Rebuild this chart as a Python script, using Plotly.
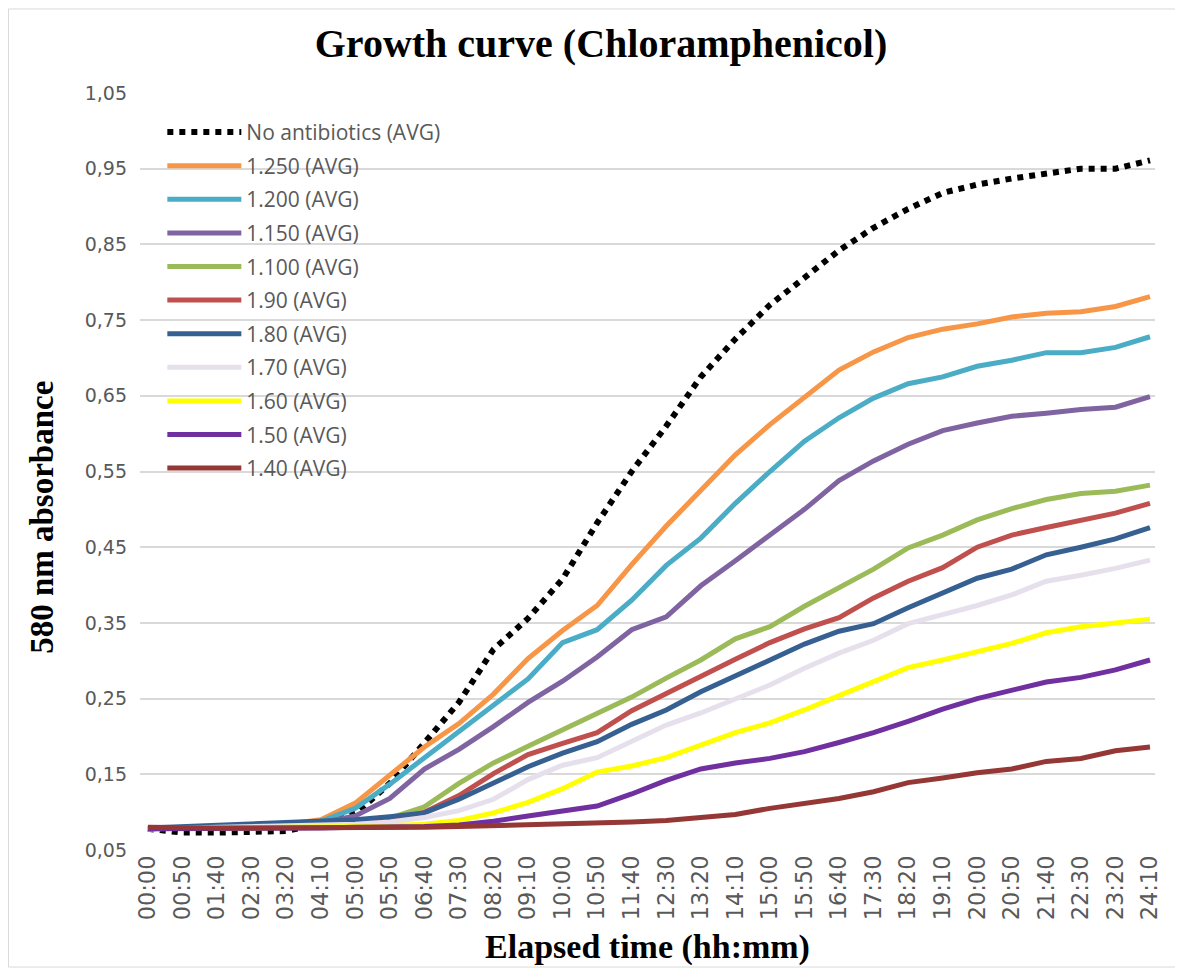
import plotly.graph_objects as go

time_labels = ["00:00", "00:50", "01:40", "02:30", "03:20", "04:10", "05:00", "05:50",
               "06:40", "07:30", "08:20", "09:10", "10:00", "10:50", "11:40", "12:30",
               "13:20", "14:10", "15:00", "15:50", "16:40", "17:30", "18:20", "19:10",
               "20:00", "20:50", "21:40", "22:30", "23:20", "24:10"]

no_antibiotics = [0.078, 0.073, 0.073, 0.074, 0.075, 0.085, 0.098, 0.138, 0.191, 0.245,
                  0.315, 0.356, 0.408, 0.482, 0.550, 0.610, 0.675, 0.725, 0.770, 0.807,
                  0.842, 0.872, 0.897, 0.918, 0.929, 0.937, 0.944, 0.950, 0.950, 0.961]
c1_250 = [0.078, 0.079, 0.081, 0.082, 0.084, 0.090, 0.112, 0.150, 0.186, 0.217,
          0.256, 0.303, 0.340, 0.373, 0.427, 0.478, 0.526, 0.572, 0.612, 0.648,
          0.684, 0.708, 0.727, 0.738, 0.745, 0.754, 0.759, 0.761, 0.768, 0.781]
c1_200 = [0.078, 0.079, 0.080, 0.081, 0.083, 0.088, 0.105, 0.137, 0.172, 0.207,
          0.240, 0.276, 0.324, 0.341, 0.380, 0.426, 0.462, 0.508, 0.550, 0.590,
          0.621, 0.647, 0.666, 0.675, 0.689, 0.697, 0.707, 0.707, 0.714, 0.728]
c1_150 = [0.078, 0.079, 0.080, 0.080, 0.082, 0.086, 0.095, 0.118, 0.157, 0.183,
          0.213, 0.245, 0.273, 0.305, 0.341, 0.358, 0.399, 0.432, 0.465, 0.500,
          0.538, 0.564, 0.586, 0.604, 0.614, 0.623, 0.627, 0.632, 0.635, 0.649]
c1_100 = [0.078, 0.079, 0.079, 0.080, 0.081, 0.084, 0.086, 0.092, 0.107, 0.138,
          0.165, 0.187, 0.209, 0.231, 0.252, 0.277, 0.301, 0.329, 0.345, 0.372,
          0.397, 0.421, 0.449, 0.466, 0.486, 0.501, 0.513, 0.521, 0.524, 0.532]
c1_90 = [0.078, 0.079, 0.079, 0.080, 0.081, 0.083, 0.085, 0.088, 0.100, 0.122,
         0.151, 0.176, 0.191, 0.205, 0.234, 0.257, 0.280, 0.302, 0.324, 0.342,
         0.357, 0.383, 0.405, 0.423, 0.450, 0.466, 0.476, 0.486, 0.495, 0.508]
c1_80 = [0.079, 0.081, 0.083, 0.084, 0.086, 0.088, 0.090, 0.094, 0.099, 0.117,
         0.138, 0.160, 0.178, 0.193, 0.216, 0.235, 0.259, 0.280, 0.300, 0.322,
         0.339, 0.349, 0.370, 0.389, 0.409, 0.421, 0.440, 0.450, 0.461, 0.476]
c1_70 = [0.078, 0.079, 0.079, 0.080, 0.081, 0.082, 0.084, 0.087, 0.093, 0.102,
         0.117, 0.143, 0.162, 0.172, 0.194, 0.215, 0.231, 0.249, 0.268, 0.290,
         0.310, 0.327, 0.349, 0.361, 0.373, 0.387, 0.405, 0.413, 0.422, 0.433]
c1_60 = [0.078, 0.078, 0.079, 0.079, 0.080, 0.080, 0.081, 0.082, 0.084, 0.089,
         0.099, 0.113, 0.131, 0.153, 0.161, 0.172, 0.189, 0.205, 0.218, 0.235,
         0.254, 0.272, 0.291, 0.301, 0.312, 0.323, 0.337, 0.345, 0.350, 0.355]
c1_50 = [0.078, 0.078, 0.078, 0.078, 0.079, 0.079, 0.080, 0.080, 0.081, 0.083,
         0.088, 0.095, 0.102, 0.108, 0.124, 0.142, 0.157, 0.165, 0.171, 0.180,
         0.192, 0.205, 0.220, 0.236, 0.250, 0.261, 0.272, 0.278, 0.288, 0.301]
c1_40 = [0.080, 0.079, 0.079, 0.079, 0.079, 0.079, 0.079, 0.080, 0.080, 0.081,
         0.082, 0.083, 0.084, 0.085, 0.087, 0.089, 0.093, 0.097, 0.105, 0.111,
         0.118, 0.127, 0.139, 0.145, 0.152, 0.157, 0.167, 0.171, 0.181, 0.186]

series_names = ["No antibiotics (AVG)", "1.250 (AVG)", "1.200 (AVG)", "1.150 (AVG)",
                "1.100 (AVG)", "1.90 (AVG)", "1.80 (AVG)", "1.70 (AVG)", "1.60 (AVG)",
                "1.50 (AVG)", "1.40 (AVG)"]
series_values = [no_antibiotics, c1_250, c1_200, c1_150, c1_100, c1_90, c1_80,
                 c1_70, c1_60, c1_50, c1_40]
series_colors = ["#000000", "#F79646", "#4BACC6", "#8064A2", "#9BBB59", "#C0504D",
                 "#376092", "#E6E0EC", "#FFFF00", "#7030A0", "#953735"]

y_ticks = [0.05, 0.15, 0.25, 0.35, 0.45, 0.55, 0.65, 0.75, 0.85, 0.95, 1.05]

fig = go.Figure()
for i, (name, vals, col) in enumerate(zip(series_names, series_values, series_colors)):
    if i == 0:
        line = dict(color=col, width=6, dash="6px,6px")
    else:
        line = dict(color=col, width=5)
    fig.add_trace(go.Scatter(x=time_labels, y=vals, mode="lines", name=name,
                             line=line, legendgroup=name))

tick_col = "#595959"
fig.update_layout(
    width=1175, height=961,
    paper_bgcolor="white", plot_bgcolor="white",
    separators=",.",
    margin=dict(l=132, r=28, t=85, b=119),
    title=dict(text="<b>Growth curve (Chloramphenicol)</b>",
               font=dict(family="Liberation Serif", size=40, color="#000000"),
               x=0.5047, xanchor="center", y=0.964, yanchor="middle"),
    xaxis=dict(type="category", range=[-0.23, 29.145], showgrid=False,
               tickangle=-90,
               tickfont=dict(family="DejaVu Sans", size=22.5, color=tick_col),
               ticks="", showline=False, zeroline=False,
               title=dict(text="<b>Elapsed time (hh:mm)</b>",
                          font=dict(family="Liberation Serif", size=34, color="#000000"),
                          standoff=14)),
    yaxis=dict(range=[0.05, 1.05], tickvals=y_ticks, tickformat=".2f",
               showgrid=True, gridcolor="#D9D9D9", gridwidth=1.5, zeroline=False,
               showline=False, ticks="",
               tickfont=dict(family="DejaVu Sans", size=19, color=tick_col),
               ticklabelstandoff=12),
    legend=dict(x=0.022, y=0.975, xanchor="left", yanchor="top",
                bgcolor="rgba(0,0,0,0)", itemwidth=74, tracegroupgap=3.3,
                font=dict(family="Open Sans", size=21, color=tick_col)),
    annotations=[dict(text="<b>580 nm absorbance</b>", textangle=-90,
                      xref="paper", yref="paper", x=-0.0966, y=0.44,
                      xanchor="center", yanchor="middle", showarrow=False,
                      font=dict(family="Liberation Serif", size=33, color="#000000"))],
    shapes=[dict(type="rect", xref="paper", yref="paper",
                 x0=-0.1296, x1=1.0256, y0=-0.1546, y1=1.111,
                 line=dict(color="#D9D9D9", width=1), fillcolor="rgba(0,0,0,0)",
                 layer="below")],
)

fig.write_html("out.html")
